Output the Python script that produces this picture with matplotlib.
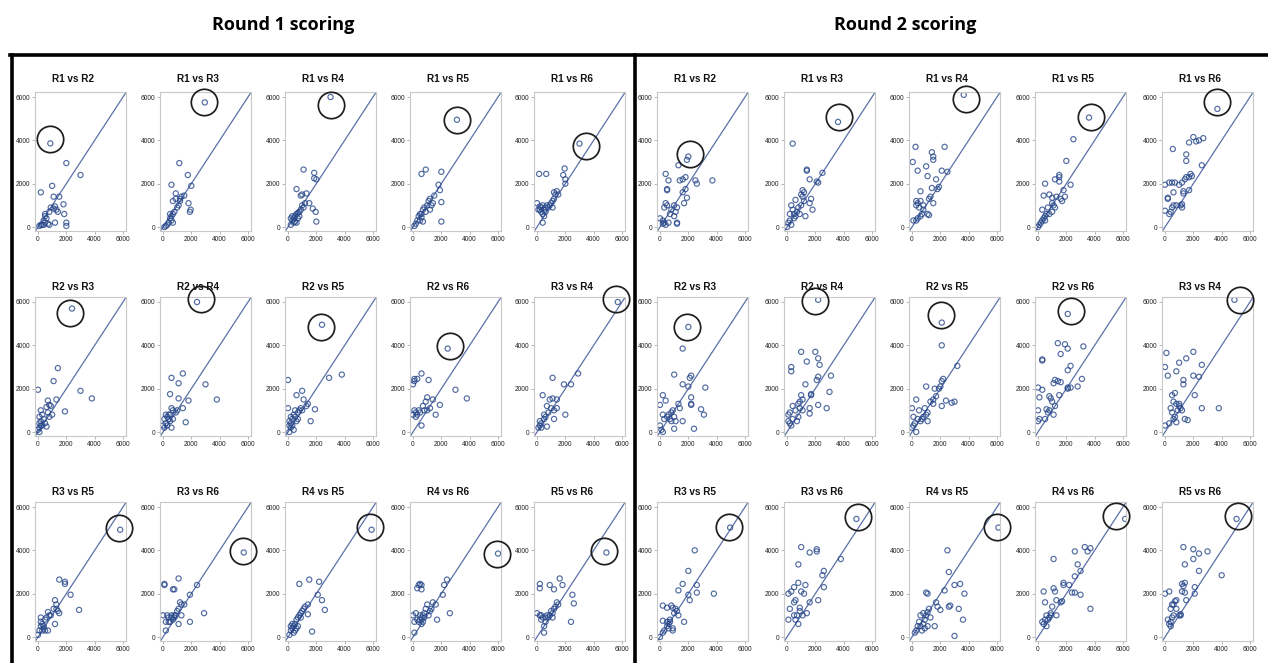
import matplotlib.pyplot as plt
from matplotlib.lines import Line2D

# ---- data (x = first rater, y = second rater) ----
pair_titles = ["R1 vs R2", "R1 vs R3", "R1 vs R4", "R1 vs R5", "R1 vs R6",
               "R2 vs R3", "R2 vs R4", "R2 vs R5", "R2 vs R6", "R3 vs R4",
               "R3 vs R5", "R3 vs R6", "R4 vs R5", "R4 vs R6", "R5 vs R6"]
round_titles = ["Round 1 scoring", "Round 2 scoring"]
tick_values = [0, 2000, 4000, 6000]

# round 1
rd1_r1_r2 = [(870,3860),(2000,2950),(3000,2400),(200,1600),(1000,1900),(1100,1400),(1500,1400),(1800,1050),(1850,600),(2000,200),(2000,50),(1200,950),(1300,800),(1100,850),(900,900),(800,700),(500,500),(500,600),(600,400),(400,300),(300,100),(200,100),(100,50),(400,100),(500,200),(700,150),(800,100),(1200,200),(1400,700)]
rd1_r1_r3 = [(2950,5750),(1150,2950),(1750,2400),(600,1950),(2000,1900),(900,1550),(1800,1100),(1900,700),(1950,800),(1300,1400),(1500,1450),(1200,1200),(1100,1000),(1000,900),(700,1200),(800,700),(700,600),(600,500),(500,400),(600,300),(700,200),(400,200),(300,100),(200,50),(100,0),(500,600),(900,1300),(1200,1300)]
rd1_r1_r4 = [(3000,6000),(1100,2650),(1850,2500),(1850,2250),(2000,2200),(600,1750),(1300,1550),(900,1450),(1000,1500),(1500,1100),(1750,850),(1950,700),(2000,250),(200,100),(300,300),(400,400),(500,500),(600,600),(700,650),(300,500),(400,200),(500,250),(800,700),(900,800),(1000,1000),(1100,900),(700,400),(600,200),(200,400),(1200,1100),(800,500)]
rd1_r1_r5 = [(3100,4950),(900,2650),(600,2450),(2000,2550),(1800,1950),(1900,1700),(2000,1150),(2000,250),(1500,1450),(1200,1300),(1100,1200),(1300,1000),(1000,1000),(800,900),(700,800),(600,600),(500,600),(400,500),(600,450),(300,300),(200,150),(100,50),(500,300),(700,250),(900,700),(1400,1100),(1200,800)]
rd1_r1_r6 = [(3000,3850),(150,2450),(650,2450),(1950,2700),(1850,2400),(2000,2200),(2000,2000),(1200,1600),(1400,1650),(1300,1500),(1500,1500),(1200,1300),(0,1100),(200,800),(300,900),(400,1000),(500,800),(600,900),(300,700),(400,600),(500,500),(700,1000),(600,700),(800,900),(1000,1100),(1100,1200),(1100,900),(400,200),(200,950),(100,800),(900,1000)]
rd1_r2_r3 = [(2400,5700),(1400,2950),(1100,2350),(0,1950),(3000,1900),(3800,1550),(1900,950),(1300,1500),(700,1450),(800,1250),(900,1200),(600,1150),(1000,800),(700,900),(200,1000),(100,700),(300,800),(100,400),(200,300),(0,100),(100,200),(400,600),(500,400),(600,250),(200,500),(300,300),(100,0),(800,700)]
rd1_r2_r4 = [(2400,6000),(1400,2700),(600,2500),(1100,2250),(3000,2200),(500,1750),(3800,1500),(1800,1450),(1100,1550),(1400,1100),(1600,450),(600,1100),(700,1000),(900,900),(1000,1000),(400,800),(300,700),(200,800),(100,600),(200,400),(300,300),(100,200),(400,600),(500,500),(600,200),(700,600),(0,300),(500,800)]
rd1_r2_r5 = [(2400,4950),(0,2400),(2900,2500),(3800,2650),(1000,1900),(1100,1500),(600,1700),(1900,1050),(1600,500),(1400,1300),(1300,1200),(0,1100),(100,300),(200,400),(300,600),(400,800),(500,700),(600,500),(700,900),(800,1000),(900,1100),(1000,1000),(200,200),(100,500),(300,300),(500,1000),(700,600),(400,100),(100,0),(200,700)]
rd1_r2_r6 = [(2450,3850),(600,2700),(100,2450),(300,2450),(0,2200),(100,2350),(1100,2400),(3000,1950),(3800,1550),(1900,1250),(1600,800),(1400,1500),(1000,1600),(900,1400),(700,1200),(800,1000),(500,900),(600,300),(400,1000),(300,800),(200,900),(100,1000),(0,800),(200,700),(1000,1000),(1200,1100)]
rd1_r3_r4 = [(5700,6000),(1100,2500),(2900,2700),(1900,2200),(2400,2200),(400,1700),(1100,1550),(900,1500),(1400,1500),(1400,1100),(1200,1000),(1000,1100),(800,900),(2000,800),(1200,600),(700,250),(600,700),(500,600),(200,500),(300,400),(200,300),(100,200),(300,200),(500,800),(700,1200)]
rd1_r3_r5 = [(5800,4950),(1500,2650),(1900,2550),(1900,2450),(2300,1950),(2900,1250),(1200,1700),(1300,1500),(1300,1300),(1400,1200),(1500,1100),(1200,600),(800,1000),(900,1000),(700,1150),(600,900),(500,800),(700,300),(400,400),(300,300),(200,500),(100,300),(0,100),(200,900),(200,700),(300,600),(400,500),(500,300),(1100,1300)]
rd1_r3_r6 = [(5700,3900),(100,2450),(100,2400),(1100,2700),(700,2200),(800,2200),(2400,2400),(1900,1950),(2900,1100),(1900,700),(1200,1600),(1300,1500),(1500,1500),(1100,1300),(1000,1200),(900,1000),(800,900),(700,800),(600,1000),(500,700),(400,900),(300,1000),(200,700),(0,1000),(400,700),(600,900),(1100,600),(1300,1000),(200,300),(800,1000)]
rd1_r4_r5 = [(5900,4950),(1500,2650),(800,2450),(2200,2550),(2100,1950),(2400,1700),(2600,1250),(1700,250),(1400,1500),(1400,1050),(1100,1300),(1000,1200),(900,1100),(800,1000),(700,900),(600,800),(500,600),(400,500),(300,400),(200,300),(100,100),(200,500),(600,400),(500,300),(900,900),(1200,1400),(700,500),(400,200),(300,600)]
rd1_r4_r6 = [(6000,3850),(500,2450),(400,2400),(600,2400),(300,2250),(600,2200),(2400,2650),(2200,2400),(2100,1950),(1400,1600),(1600,1500),(1700,800),(2600,1100),(1300,1300),(1200,1200),(1000,1500),(900,1300),(800,1100),(700,1000),(600,900),(500,800),(400,700),(300,800),(200,1100),(100,700),(0,1000),(600,600),(700,700),(1100,1000),(100,200),(800,900),(500,1000)]
rd1_r5_r6 = [(4900,3900),(200,2450),(200,2250),(900,2400),(1600,2700),(1200,2200),(1800,2400),(2500,1950),(2600,1550),(2400,700),(1400,1600),(1300,1400),(1200,1300),(1100,1100),(1000,1200),(900,1000),(800,900),(700,1000),(600,700),(500,500),(500,200),(400,900),(300,800),(200,1000),(0,1100),(300,1000),(600,900),(1100,900),(1500,1500)]

# round 2
rd2_r1_r2 = [(2000,3250),(1900,3100),(1300,2850),(400,2450),(600,2150),(1800,2300),(1600,2200),(1400,2150),(2600,2000),(2500,2150),(3700,2150),(500,1750),(500,1700),(1600,1600),(1800,1750),(1900,1350),(1700,1100),(400,1100),(500,1000),(300,900),(1200,900),(1100,700),(1000,500),(800,800),(1200,150),(1200,200),(200,300),(300,200),(0,400),(400,100),(600,200),(700,600),(1000,1000),(200,150)]
rd2_r1_r3 = [(3600,4850),(400,3850),(1400,2650),(1400,2600),(1600,2200),(2100,2100),(2200,2050),(2500,2500),(1100,1700),(1200,1600),(1100,1400),(1200,1200),(1000,1000),(1700,1300),(1600,1100),(1800,800),(600,1250),(300,1000),(400,800),(500,600),(600,500),(700,700),(800,900),(900,600),(1300,500),(200,300),(100,200),(300,100),(0,0),(200,600),(500,400),(1000,1500)]
rd2_r1_r4 = [(3650,6100),(250,3700),(50,3000),(400,2600),(1400,3450),(1500,3250),(1500,3100),(2300,3700),(1000,2800),(1100,2350),(2100,2600),(2500,2550),(1700,2200),(1900,1850),(1400,1800),(600,1650),(1800,1750),(1300,1400),(1200,1300),(1500,1100),(300,1200),(600,1200),(400,1100),(300,1000),(500,900),(800,1000),(1100,600),(1200,550),(700,600),(600,500),(400,400),(300,300),(100,300),(800,800)]
rd2_r1_r5 = [(3600,5050),(2500,4050),(2000,3050),(500,2000),(1500,2400),(1500,2300),(1200,2200),(1500,2100),(2300,1950),(1800,1700),(400,1450),(800,1500),(1000,1350),(1300,1400),(1900,1400),(1600,1300),(1700,1200),(1000,1100),(1100,1000),(1200,900),(1000,700),(700,900),(600,600),(500,500),(400,400),(300,300),(200,200),(100,100),(0,0),(300,800),(500,300),(800,600)]
rd2_r1_r6 = [(3700,5450),(550,3600),(1500,3350),(1700,3900),(2000,4150),(2400,4000),(2200,3950),(2700,4100),(1500,3050),(2600,2850),(0,1950),(300,2050),(500,2050),(700,2050),(200,1350),(200,1300),(600,1600),(1200,2050),(1500,2300),(1700,2300),(1900,2350),(1400,2200),(1800,2450),(1000,1950),(1300,1650),(1300,1550),(1700,1700),(0,750),(500,900),(600,1000),(800,1000),(1100,1000),(1200,1050),(300,600),(400,700),(1200,900)]
rd2_r2_r3 = [(2000,4850),(1600,3850),(1000,2650),(2200,2600),(2100,2500),(2000,2100),(1600,2200),(3200,2050),(200,1700),(400,1450),(0,1250),(2200,1600),(2200,1300),(2200,1250),(2900,1050),(3100,800),(1300,1300),(1400,1100),(900,1000),(800,900),(1000,700),(500,700),(200,800),(300,600),(700,600),(1100,500),(1600,500),(1000,150),(2400,150),(0,300),(100,100),(200,0),(800,500),(600,800)]
rd2_r2_r4 = [(2200,6100),(1000,3700),(2000,3700),(2200,3400),(2300,3100),(2200,2550),(2100,2400),(3100,2600),(1400,3250),(300,3000),(300,2800),(1300,2200),(3000,1850),(400,1200),(1000,1700),(1100,1500),(900,1400),(800,1300),(1700,1750),(1700,1700),(2200,1250),(2800,1100),(1600,1100),(1600,850),(1100,1000),(900,1100),(600,1000),(700,500),(400,600),(200,900),(100,800),(200,400),(100,500),(300,300),(800,700)]
rd2_r2_r5 = [(2100,5050),(2100,4000),(3200,3050),(2200,2450),(2100,2350),(2000,2100),(1900,2000),(1600,2000),(1000,2100),(300,1500),(1700,1650),(1500,1500),(1300,1400),(1500,1300),(2400,1450),(2800,1350),(3000,1400),(2100,1200),(0,1100),(100,700),(500,1000),(900,1100),(1000,800),(800,700),(700,600),(600,500),(400,600),(200,400),(100,300),(0,200),(300,0),(1100,500),(1100,900)]
rd2_r2_r6 = [(2100,5450),(1400,4100),(1900,4050),(2100,3850),(300,3350),(300,3300),(3200,3950),(1600,3600),(2300,3050),(2100,2850),(3100,2450),(2800,2100),(2300,2050),(2100,2050),(2100,2000),(1200,2400),(1400,2350),(1600,2300),(1100,2250),(0,2050),(300,1950),(100,1600),(1500,1700),(800,1650),(900,1550),(1000,1400),(1200,1200),(800,1000),(700,900),(1100,800),(600,1050),(0,1000),(100,600),(0,500),(500,600)]
rd2_r3_r4 = [(4900,6100),(100,3650),(0,3000),(200,2600),(1000,3200),(1500,3400),(2000,3700),(800,2800),(2600,3100),(1300,2400),(1300,2200),(2400,2550),(2000,2600),(2100,1700),(500,1700),(700,1800),(600,1400),(800,1300),(1000,1200),(1100,1100),(1200,1000),(900,1000),(500,900),(700,700),(600,600),(300,400),(0,300),(800,450),(1400,600),(1600,550),(2600,1100),(3800,1100),(1000,1300),(400,1100)]
rd2_r3_r5 = [(4950,5050),(2450,4000),(2000,3050),(1600,2450),(1300,2150),(2600,2400),(2600,2050),(2000,1950),(2100,1700),(3800,2000),(200,1450),(500,1350),(800,1450),(900,1350),(1100,1300),(1200,1200),(1000,1100),(1300,1000),(1700,700),(900,300),(900,400),(700,700),(600,600),(500,500),(600,400),(300,300),(200,200),(0,0),(200,750),(500,700),(700,800)]
rd2_r3_r6 = [(4900,5450),(1000,4150),(2100,4050),(2100,3950),(1600,3900),(3800,3600),(800,3350),(2600,3050),(2500,2850),(2600,2300),(800,2500),(1300,2400),(500,2300),(300,2100),(100,2000),(1000,2100),(1200,2000),(600,1700),(500,1600),(2200,1700),(1600,1600),(200,1300),(900,1350),(100,800),(500,1000),(700,1000),(600,800),(800,600),(1100,1000),(1400,1100),(900,1200)]
rd2_r4_r5 = [(6100,5050),(2500,4000),(2600,3000),(1000,2050),(1100,2000),(2300,2150),(3000,2400),(3400,2450),(3700,2000),(2000,1250),(1700,1600),(1800,1400),(2600,1400),(2700,1450),(3300,1300),(3600,800),(3000,50),(1200,1300),(1100,1150),(1000,1000),(800,1100),(600,1000),(500,700),(1300,900),(1100,500),(900,400),(800,600),(700,300),(400,500),(300,300),(200,200),(600,500),(1600,500),(900,800)]
rd2_r4_r6 = [(6150,5450),(1100,3600),(2600,3950),(3300,4150),(3500,3950),(3700,4100),(2800,3350),(3000,3050),(2600,2800),(1800,2400),(1800,2500),(2200,2400),(2400,2050),(2600,2050),(3000,1950),(3700,1300),(1100,2250),(1200,2100),(400,2100),(500,1600),(1300,1700),(1600,1600),(1700,1650),(1000,1400),(1300,1000),(900,1000),(800,900),(700,800),(600,1000),(500,800),(300,700),(400,600),(600,500),(900,1100)]
rd2_r5_r6 = [(5050,5450),(1300,4150),(2000,4050),(2400,3850),(3000,3950),(2000,3600),(1400,3350),(2400,3050),(4000,2850),(1400,2500),(1200,2450),(1300,2350),(1200,2100),(1400,2050),(2100,2300),(2100,2000),(0,2000),(300,2100),(700,1650),(800,1700),(500,1500),(600,1500),(400,1300),(800,1300),(1500,1700),(1100,1000),(1000,1000),(1100,1050),(600,1000),(500,900),(400,700),(300,600),(400,500),(200,800)]

# hand-drawn circles around the outlier in each panel
circles_rd1 = [(820,4060),(2900,5750),(3010,5650),(3100,4950),(3450,3720),
               (2270,5500),(2700,6150),(2300,4850),(2600,3980),(5580,6130),
               (5730,5040),(5670,3970),(5800,5060),(5900,3850),(4750,3970)]
circles_rd2 = [(2100,3370),(3650,5070),(3800,5920),(3740,5070),(3700,5750),
               (1880,4850),(1970,6050),(2040,5380),(2350,5580),(5300,6080),
               (4900,5070),(4990,5560),(6000,5100),(5520,5600),(5150,5600)]

round1 = [rd1_r1_r2, rd1_r1_r3, rd1_r1_r4, rd1_r1_r5, rd1_r1_r6,
          rd1_r2_r3, rd1_r2_r4, rd1_r2_r5, rd1_r2_r6, rd1_r3_r4,
          rd1_r3_r5, rd1_r3_r6, rd1_r4_r5, rd1_r4_r6, rd1_r5_r6]
round2 = [rd2_r1_r2, rd2_r1_r3, rd2_r1_r4, rd2_r1_r5, rd2_r1_r6,
          rd2_r2_r3, rd2_r2_r4, rd2_r2_r5, rd2_r2_r6, rd2_r3_r4,
          rd2_r3_r5, rd2_r3_r6, rd2_r4_r5, rd2_r4_r6, rd2_r5_r6]

# ---- layout (pixels) ----
W, H = 1268, 663
fig = plt.figure(figsize=(W / 100, H / 100), dpi=100)
narrow = ['Liberation Sans Narrow', 'Liberation Sans', 'DejaVu Sans']

xlim = (-200, 6200)
ylim = (-200, 6250)
xs = 85 / 6000   # px per unit
ys = 130 / 6000
col_zero = [[38, 163, 288, 413, 537], [660, 787, 912, 1038, 1165]]
row_zero = [227, 432, 637]
title_y = [79, 287, 492]


def fx(px):
    return px / W


def fy(py):
    return 1 - py / H


for g, (panels, circles) in enumerate([(round1, circles_rd1), (round2, circles_rd2)]):
    for i, pts in enumerate(panels):
        r, c = divmod(i, 5)
        left = col_zero[g][c] + xlim[0] * xs
        top = row_zero[r] - ylim[1] * ys
        w = (xlim[1] - xlim[0]) * xs
        h = (ylim[1] - ylim[0]) * ys
        ax = fig.add_axes([fx(left), fy(top + h), w / W, h / H])
        x = [p[0] for p in pts]
        y = [p[1] for p in pts]
        ax.plot([-400, 6400], [-400, 6400], color='#5a70a8', lw=0.9, zorder=1)
        ax.scatter(x, y, s=14, facecolors='none', edgecolors='#27478a',
                   linewidths=0.85, alpha=0.8, zorder=2)
        ax.plot(circles[i][0], circles[i][1], 'o', ms=19, mfc='none',
                mec='#1e1e1e', mew=1.25, clip_on=False, zorder=5)
        ax.set_xlim(*xlim)
        ax.set_ylim(*ylim)
        ax.set_xticks(tick_values)
        ax.set_yticks(tick_values)
        ax.tick_params(length=2, width=0.5, color='#999999', pad=1.5,
                       labelsize=4.8, labelcolor='#222222')
        for lab in ax.get_xticklabels() + ax.get_yticklabels():
            lab.set_family(narrow)
        for sp in ax.spines.values():
            sp.set_color('#c8c8c8')
            sp.set_linewidth(0.8)
        fig.text(fx(left + 38), fy(title_y[r]), pair_titles[i], ha='center',
                 va='center', fontsize=7.2, fontweight='bold', family=narrow,
                 color='#111111')

# round headers
fig.text(fx(283), fy(25), round_titles[0], ha='center', va='center',
         fontsize=13, fontweight='bold', family=['Open Sans', 'DejaVu Sans'])
fig.text(fx(905), fy(25), round_titles[1], ha='center', va='center',
         fontsize=13, fontweight='bold', family=['Open Sans', 'DejaVu Sans'])

# black frames
for xx, yy in [([10, 1268], [55, 55]), ([11.5, 11.5], [55, 663]), ([635, 635], [55, 663])]:
    fig.add_artist(Line2D([fx(v) for v in xx], [fy(v) for v in yy],
                          transform=fig.transFigure, color='black', lw=2.6))

fig.savefig('out.png', dpi=100)
